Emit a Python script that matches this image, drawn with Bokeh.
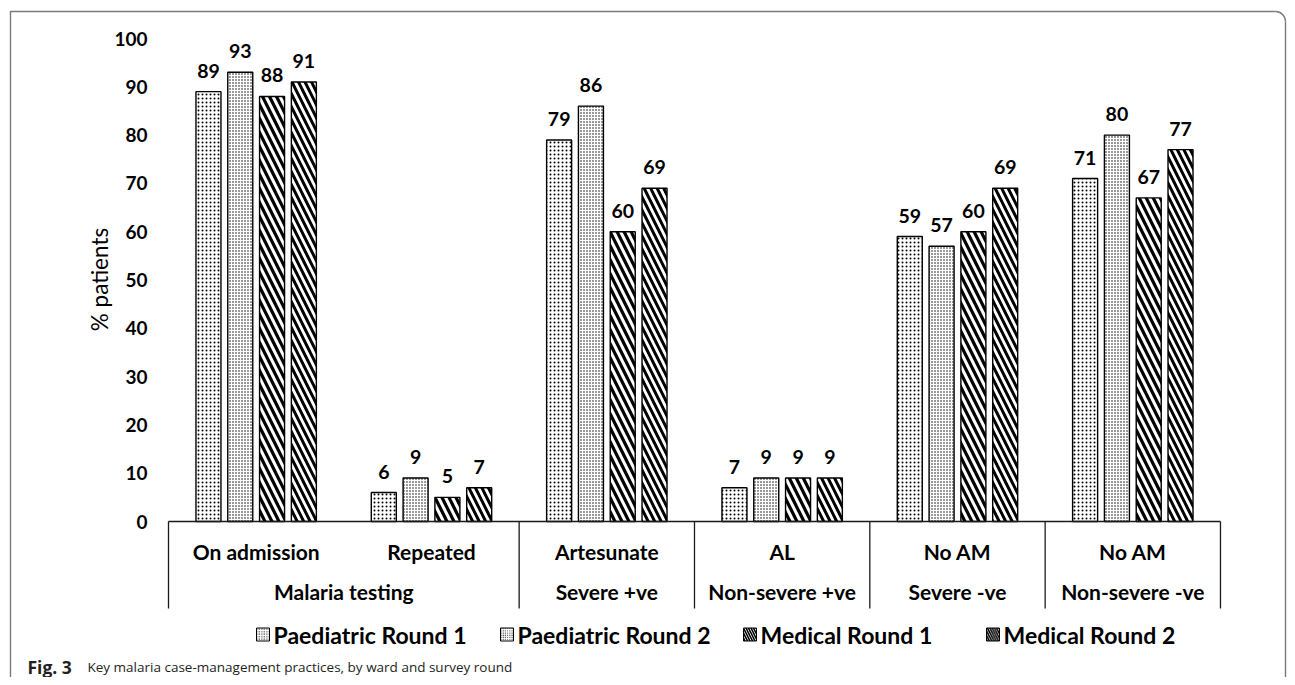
import math
from bokeh.plotting import figure
from bokeh.models import Range1d
from bokeh.core.properties import value
from bokeh.embed import file_html
from bokeh.resources import INLINE

# ---------------- data ----------------
categories = ["On admission", "Repeated", "Artesunate", "AL", "No AM", "No AM"]
groups = ["Malaria testing", "Severe +ve", "Non-severe +ve", "Severe -ve", "Non-severe -ve"]
group_spans = [2, 1, 1, 1, 1]
series_names = ["Paediatric Round 1", "Paediatric Round 2", "Medical Round 1", "Medical Round 2"]
paed_r1 = [89, 6, 79, 7, 59, 71]
paed_r2 = [93, 9, 86, 9, 57, 80]
med_r1 = [88, 5, 60, 9, 60, 67]
med_r2 = [91, 7, 69, 9, 69, 77]
y_ticks = [0, 10, 20, 30, 40, 50, 60, 70, 80, 90, 100]
y_label = "% patients"
caption_bold = "Fig. 3"
caption_text = "Key malaria case-management practices, by ward and survey round"

series_values = [paed_r1, paed_r2, med_r1, med_r2]

# ---------------- layout (pixels) ----------------
W, H = 1287, 677
X0, SLOT = 168.0, 175.33      # px of category slot 0, px per slot
Y0, PPU = 521.0, 4.83         # px of value 0, px per unit


def dx(px):
    return (px - X0) / SLOT


def dy(py):
    return (Y0 - py) / PPU


p = figure(width=W, height=H, output_backend="svg", toolbar_location=None,
           x_range=Range1d(dx(0), dx(W)), y_range=Range1d(dy(H), dy(0)),
           x_axis_type=None, y_axis_type=None, min_border=0,
           outline_line_color=None, background_fill_color="white",
           border_fill_color="white")

FONT = value("Lato")
styles = [
    dict(hatch_pattern="dot", hatch_scale=4, hatch_weight=1.2),
    dict(hatch_pattern="dot", hatch_scale=3, hatch_weight=1.2),
    dict(hatch_pattern="left_diagonal_line", hatch_scale=14, hatch_weight=3.2),
    dict(hatch_pattern="left_diagonal_line", hatch_scale=13, hatch_weight=3.0),
]
swatch_styles = [
    dict(hatch_pattern="dot", hatch_scale=2.5, hatch_weight=1.0),
    dict(hatch_pattern="dot", hatch_scale=2.2, hatch_weight=1.0),
    dict(hatch_pattern="left_diagonal_line", hatch_scale=5, hatch_weight=1.6),
    dict(hatch_pattern="left_diagonal_line", hatch_scale=4.6, hatch_weight=1.5),
]
bar_w = 25 / SLOT
step = 31.8 / SLOT
offsets = [-1.5 * step, -0.5 * step, 0.5 * step, 1.5 * step]

for k, vals in enumerate(series_values):
    xs = [i + 0.5 + offsets[k] for i in range(len(categories))]
    p.vbar(x=xs, top=vals, bottom=0, width=bar_w, fill_color="white",
           hatch_color="black", line_color="black", line_width=1.4, **styles[k])
    p.text(x=xs, y=[v + 21 / PPU for v in vals], text=[str(v) for v in vals],
           text_align="center", text_baseline="alphabetic",
           text_font=FONT, text_font_style="bold", text_font_size="19.5px",
           text_color="black")

# axis line and category separators
line_col = "#1a1a1a"
p.segment(x0=[0], y0=[0], x1=[len(categories)], y1=[0], line_color=line_col, line_width=1.3)
bounds = [0]
for s in group_spans:
    bounds.append(bounds[-1] + s)
p.segment(x0=bounds, y0=[0] * len(bounds), x1=bounds, y1=[dy(608)] * len(bounds),
          line_color=line_col, line_width=1.3)

# category labels
p.text(x=[i + 0.5 for i in range(len(categories))], y=[dy(551)] * len(categories),
       text=categories, text_align="center", text_baseline="middle",
       text_font=FONT, text_font_style="bold", text_font_size="21px", text_color="black")
gcent = [(bounds[i] + bounds[i + 1]) / 2 for i in range(len(groups))]
p.text(x=gcent, y=[dy(591)] * len(groups), text=groups, text_align="center",
       text_baseline="middle", text_font=FONT, text_font_style="bold",
       text_font_size="21px", text_color="black")

# y tick labels
p.text(x=[dx(147)] * len(y_ticks), y=y_ticks, text=[str(t) for t in y_ticks],
       text_align="right", text_baseline="middle", text_font=FONT,
       text_font_style="bold", text_font_size="19px", text_color="black")
# y axis title
p.text(x=[dx(99)], y=[dy(279)], text=[y_label], angle=math.pi / 2,
       text_align="center", text_baseline="middle", text_font=FONT,
       text_font_size="22.5px", text_color="black")

# legend
sw_left = [256, 500, 743, 986]
sw = 13
for k, name in enumerate(series_names):
    cx = sw_left[k] + sw / 2
    p.rect(x=[dx(cx)], y=[dy(634)], width=sw, height=sw, width_units="screen",
           height_units="screen", fill_color="white", hatch_color="black",
           line_color="black", line_width=1.0, **swatch_styles[k])
    p.text(x=[dx(sw_left[k] + sw + 4)], y=[dy(634)], text=[name], text_align="left",
           text_baseline="middle", text_font=FONT, text_font_style="bold",
           text_font_size="23px", text_color="black")

# caption
p.text(x=[dx(27)], y=[dy(666)], text=[caption_bold], text_align="left",
       text_baseline="middle", text_font=value("Open Sans"), text_font_style="bold",
       text_font_size="17.5px", text_color="#231f20")
p.text(x=[dx(87)], y=[dy(666)], text=[caption_text], text_align="left",
       text_baseline="middle", text_font=value("Open Sans"),
       text_font_size="13.5px", text_color="#231f20")

# figure frame (rounded top-right corner)
r = 10
bcol = "#7a7a7a"
p.line(x=[dx(10), dx(10), dx(1285 - r)], y=[dy(H + 20), dy(11), dy(11)],
       line_color=bcol, line_width=1.4)
p.line(x=[dx(1285), dx(1285)], y=[dy(11 + r), dy(H + 20)], line_color=bcol, line_width=1.4)
p.arc(x=[dx(1285 - r)], y=[dy(11 + r)], radius=r, radius_units="screen",
      start_angle=0, end_angle=math.pi / 2, line_color=bcol, line_width=1.4)

open("out.html", "w").write(file_html(p, INLINE))
